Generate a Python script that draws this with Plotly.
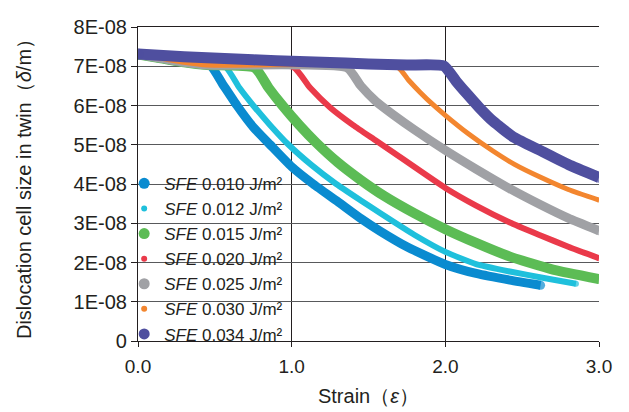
import plotly.graph_objects as go

# ---------------- data (strain, cell size in units of 1E-08 m) ----------------
labels = ["0.010", "0.012", "0.015", "0.020", "0.025", "0.030", "0.034"]
colors = ["#0a8bd0", "#1fc0dc", "#5cbc55", "#ea3a4a", "#a0a1a5", "#f3862f", "#4f4f9f"]
line_w = [9, 6, 10, 6, 9, 5, 11]
legend_size = [11, 6, 11, 6, 11, 6, 11]

x_010 = [0, 0.15, 0.30, 0.47, 0.55, 0.644, 0.75, 0.86, 1.0, 1.14, 1.30, 1.45, 1.575, 1.75, 2.0, 2.2, 2.42, 2.62]
y_010 = [7.30, 7.20, 7.10, 7.02, 6.55, 6.0, 5.45, 5.0, 4.44, 4.0, 3.55, 3.12, 2.8, 2.4, 1.95, 1.72, 1.55, 1.42]

x_012 = [0, 0.15, 0.30, 0.45, 0.57, 0.66, 0.75, 0.86, 0.98, 1.13, 1.29, 1.45, 1.575, 1.8, 2.0, 2.2, 2.42, 2.65, 2.85]
y_012 = [7.30, 7.20, 7.10, 7.03, 6.98, 6.45, 6.0, 5.5, 5.0, 4.48, 4.0, 3.58, 3.26, 2.7, 2.27, 1.96, 1.77, 1.60, 1.46]

x_015 = [0, 0.15, 0.30, 0.45, 0.76, 0.85, 0.94, 1.05, 1.16, 1.30, 1.45, 1.6, 1.8, 2.0, 2.2, 2.42, 2.7, 3.0]
y_015 = [7.30, 7.20, 7.10, 7.03, 6.96, 6.45, 6.0, 5.5, 5.05, 4.55, 4.1, 3.7, 3.25, 2.85, 2.5, 2.15, 1.82, 1.58]

x_020 = [0, 0.15, 0.30, 0.45, 1.01, 1.12, 1.25, 1.40, 1.55, 1.70, 2.0, 2.2, 2.42, 2.62, 2.8, 3.0]
y_020 = [7.30, 7.20, 7.10, 7.03, 6.98, 6.45, 5.95, 5.5, 5.1, 4.7, 3.9, 3.45, 3.02, 2.69, 2.4, 2.11]

x_025 = [0, 0.15, 0.30, 0.45, 1.36, 1.45, 1.55, 1.66, 1.8, 2.0, 2.2, 2.42, 2.62, 2.8, 3.0]
y_025 = [7.30, 7.20, 7.10, 7.03, 6.96, 6.5, 6.1, 5.77, 5.38, 4.86, 4.38, 3.88, 3.47, 3.13, 2.81]

x_030 = [0, 0.15, 0.30, 0.45, 1.69, 1.76, 1.835, 1.92, 2.0, 2.15, 2.31, 2.45, 2.62, 2.8, 3.0]
y_030 = [7.30, 7.20, 7.10, 7.03, 6.97, 6.65, 6.34, 6.02, 5.75, 5.28, 4.84, 4.5, 4.17, 3.86, 3.59]

x_034 = [0, 0.3, 0.6, 0.9, 1.2, 1.5, 1.75, 1.99, 2.07, 2.14, 2.22, 2.31, 2.45, 2.62, 2.8, 3.0]
y_034 = [7.31, 7.24, 7.19, 7.14, 7.10, 7.06, 7.03, 7.01, 6.62, 6.3, 5.95, 5.6, 5.18, 4.85, 4.5, 4.17]

xs = [x_010, x_012, x_015, x_020, x_025, x_030, x_034]
ys = [y_010, y_012, y_015, y_020, y_025, y_030, y_034]
SCALE = 1e-8

y_tickvals = [0, 1e-8, 2e-8, 3e-8, 4e-8, 5e-8, 6e-8, 7e-8, 8e-8]
y_ticktext = ["0", "1E-08", "2E-08", "3E-08", "4E-08", "5E-08", "6E-08", "7E-08", "8E-08"]
x_tickvals = [0, 1, 2, 3]
x_ticktext = ["0.0", "1.0", "2.0", "3.0"]

FONT = "Liberation Sans, Arial, Helvetica, sans-serif"
TXT = "#231f20"

fig = go.Figure()
for lab, c, w, x, y in zip(labels, colors, line_w, xs, ys):
    sizes = [w] + [0] * (len(x) - 2) + [w]   # round caps at the two ends
    fig.add_trace(go.Scatter(
        x=x, y=[v * SCALE for v in y], mode="lines+markers",
        line=dict(color=c, width=w, shape="spline", smoothing=0.5),
        marker=dict(color=c, size=sizes, line=dict(width=0)),
        showlegend=False, hoverinfo="skip"))
for lab, c, ls in zip(labels, colors, legend_size):
    fig.add_trace(go.Scatter(
        x=[None], y=[None], mode="markers",
        marker=dict(color=c, size=ls),
        name=f"<i>SFE</i> {lab} J/m²"))

# white backing behind the legend (covers grid lines, below traces)
fig.add_shape(type="rect", xref="paper", yref="paper", layer="between",
              x0=0.004, x1=0.347, y0=0.015, y1=0.532,
              fillcolor="white", line=dict(width=0))

fig.update_layout(
    width=629, height=412,
    margin=dict(l=130, r=38, t=8, b=79),
    paper_bgcolor="white", plot_bgcolor="white",
    font=dict(family=FONT, size=19, color=TXT),
    legend=dict(x=-0.03, xanchor="left", y=0.558, yanchor="top",
                bgcolor="rgba(0,0,0,0)", font=dict(size=17, color=TXT),
                itemsizing="trace", tracegroupgap=0),
    xaxis=dict(range=[0, 3], tickvals=x_tickvals, ticktext=x_ticktext,
               showline=True, linecolor="#231f20", linewidth=1.2, mirror=True,
               ticks="outside", ticklen=5, tickcolor="#231f20",
               ticklabelstandoff=3,
               showgrid=True, gridcolor="#231f20", gridwidth=1,
               zeroline=False,
               title=dict(text="Strain（<i>ε</i>）", font=dict(size=20), standoff=13)),
    yaxis=dict(range=[0, 8e-8], tickvals=y_tickvals, ticktext=y_ticktext,
               showline=True, linecolor="#231f20", linewidth=1.2,
               ticks="outside", ticklen=6, tickcolor="#231f20",
               tickfont=dict(size=20), ticklabeloverflow="allow",
               showgrid=True, gridcolor="#58595b", gridwidth=1.2,
               zeroline=False,
               title=dict(text="Dislocation cell size in twin（<i>δ</i>/m）", font=dict(size=20), standoff=36)),
)

fig.write_html("out.html")
